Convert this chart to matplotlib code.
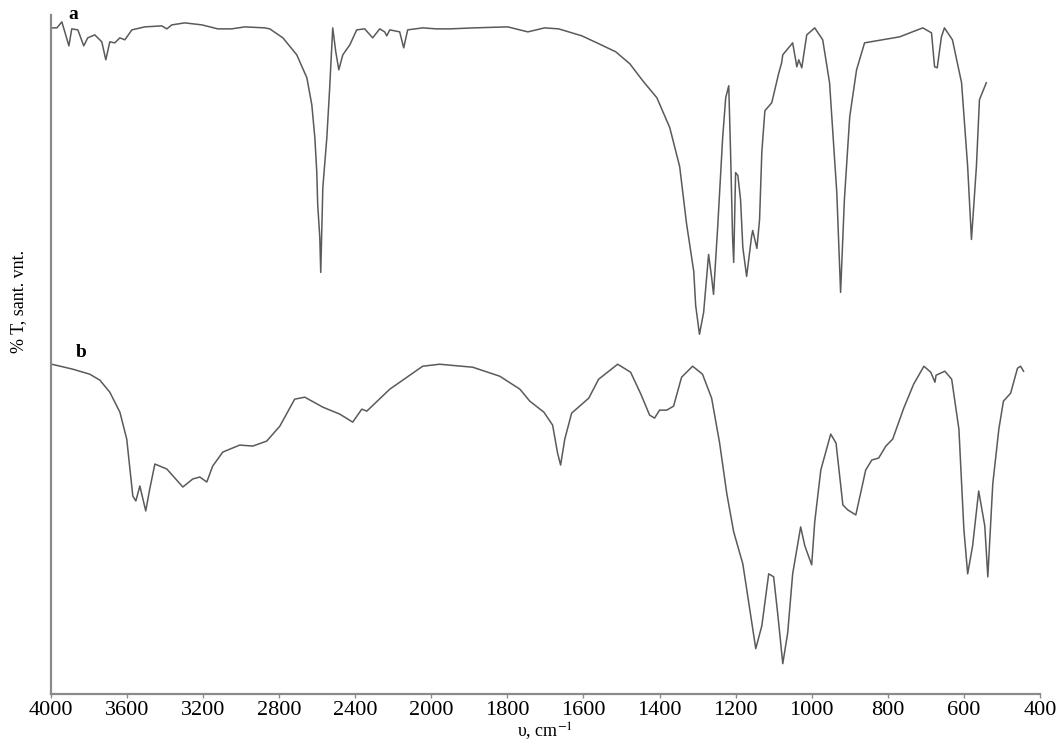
import numpy as np
import matplotlib
matplotlib.use("Agg")
import matplotlib.pyplot as plt

# spectrum a: wavenumber (cm-1) and transmittance (arbitrary units, plot offset included)
wn_a = [3995, 3968, 3942, 3905, 3890, 3858, 3827, 3806, 3769, 3732, 3711, 3690,
        3664, 3637, 3611, 3574, 3506, 3417, 3390, 3364, 3296, 3206, 3122, 3049,
        2980, 2875, 2849, 2780, 2707, 2654, 2628, 2612, 2602, 2597, 2586, 2581,
        2570, 2549, 2534, 2518, 2502, 2486, 2465, 2428, 2392, 2350, 2308, 2271,
        2245, 2234, 2218, 2166, 2145, 2124, 2045, 1986, 1951, 1888, 1799, 1746,
        1702, 1665, 1604, 1559, 1515, 1478, 1444, 1407, 1373, 1347, 1329, 1310,
        1305, 1295, 1284, 1271, 1263, 1258, 1247, 1234, 1226, 1218, 1213, 1208,
        1205, 1200, 1194, 1187, 1181, 1171, 1158, 1155, 1144, 1137, 1131, 1123,
        1105, 1087, 1079, 1076, 1050, 1039, 1034, 1026, 1013, 992, 971, 953,
        934, 924, 914, 900, 882, 861, 769, 708, 685, 677, 670, 659,
        651, 630, 606, 590, 580, 567, 559, 541]
t_a = [667, 667, 673, 649, 666, 665, 649, 657, 660, 653, 635, 653,
       652, 657, 655, 665, 668, 669, 666, 670, 672, 670, 666, 666,
       668, 667, 666, 657, 640, 617, 590, 557, 523, 490, 457, 422,
       507, 557, 607, 667, 643, 625, 640, 650, 665, 666, 657, 666,
       663, 659, 665, 663, 647, 665, 667, 666, 666, 667, 668, 663,
       667, 666, 659, 651, 643, 631, 614, 597, 567, 528, 471, 423,
       389, 360, 382, 440, 417, 400, 468, 557, 597, 609, 539, 458,
       432, 522, 519, 495, 447, 418, 458, 464, 446, 475, 543, 584,
       592, 621, 632, 640, 652, 628, 635, 627, 660, 667, 655, 612,
       502, 402, 495, 578, 625, 652, 658, 667, 662, 628, 627, 658,
       667, 655, 612, 528, 455, 528, 595, 612]

# spectrum b
wn_b = [3995, 3884, 3795, 3742, 3690, 3637, 3601, 3569, 3553, 3532, 3501, 3480,
        3453, 3390, 3306, 3254, 3217, 3180, 3149, 3096, 3007, 2938, 2865, 2796,
        2718, 2665, 2570, 2481, 2413, 2365, 2339, 2218, 2045, 1978, 1891, 1820,
        1767, 1741, 1704, 1681, 1668, 1660, 1649, 1631, 1586, 1560, 1510, 1476,
        1449, 1426, 1413, 1400, 1381, 1363, 1342, 1313, 1287, 1263, 1242, 1223,
        1205, 1181, 1163, 1147, 1131, 1113, 1100, 1089, 1076, 1063, 1050, 1029,
        1018, 1000, 992, 976, 950, 936, 918, 905, 884, 858, 842, 824,
        805, 787, 758, 732, 705, 687, 676, 673, 650, 632, 613, 600,
        590, 577, 561, 545, 537, 524, 508, 496, 477, 459, 451, 443]
t_b = [330, 325, 320, 314, 302, 282, 255, 198, 193, 208, 183, 205,
       230, 225, 207, 215, 217, 212, 228, 242, 249, 248, 253, 268,
       295, 297, 287, 280, 272, 285, 283, 305, 328, 330, 327, 318,
       305, 293, 282, 269, 241, 229, 255, 281, 296, 315, 330, 322,
       300, 279, 276, 284, 284, 288, 317, 328, 320, 296, 251, 200,
       162, 130, 85, 45, 68, 120, 117, 79, 30, 61, 120, 167,
       148, 129, 172, 224, 260, 251, 189, 184, 179, 224, 234, 236,
       248, 255, 286, 310, 328, 322, 312, 319, 323, 315, 265, 165,
       120, 148, 203, 168, 117, 210, 265, 293, 301, 326, 328, 323]

tick_vals = [4000, 3600, 3200, 2800, 2400, 2000, 1800, 1600, 1400,
             1200, 1000, 800, 600, 400]


# the instrument halves the scale above 2000 cm-1
def forward(w):
    w = np.asarray(w, dtype=float)
    return np.where(w > 2000, 2000 + (w - 2000) / 2.0, w)


def inverse(u):
    u = np.asarray(u, dtype=float)
    return np.where(u > 2000, 2000 + (u - 2000) * 2.0, u)


plt.rcParams["font.family"] = ["Liberation Serif", "DejaVu Serif"]
plt.rcParams["mathtext.fontset"] = "stix"

fig = plt.figure(figsize=(10.59, 7.45), dpi=100)
ax = fig.add_axes([0.048, 0.069, 0.934, 0.911])

ax.plot(wn_a, t_a, color="#5a5a5a", lw=1.1)
ax.plot(wn_b, t_b, color="#5a5a5a", lw=1.1)

ax.set_xscale("function", functions=(forward, inverse))
ax.set_xlim(4000, 400)
ax.set_ylim(0, 680)
ax.set_xticks(tick_vals)
ax.set_xticklabels([str(v) for v in tick_vals])
ax.minorticks_off()
ax.set_yticks([])

for side in ["top", "right"]:
    ax.spines[side].set_visible(False)
for side in ["left", "bottom"]:
    ax.spines[side].set_color("#8a8a8a")
    ax.spines[side].set_linewidth(1.6)

ax.tick_params(axis="x", direction="out", length=3, width=1, color="#8a8a8a",
               labelsize=16, pad=2)

ax.set_xlabel("υ, cm$^{-1}$", fontsize=13, labelpad=0)
fig.text(0.018, 0.595, "% T, sant. vnt.", rotation=90, fontsize=13,
         ha="center", va="center")

ax.text(0.018, 1.0, "a", transform=ax.transAxes, fontsize=14,
        fontweight="bold", ha="left", va="center")
ax.text(0.025, 0.503, "b", transform=ax.transAxes, fontsize=14,
        fontweight="bold", ha="left", va="center")

fig.savefig("out.png", dpi=100)
